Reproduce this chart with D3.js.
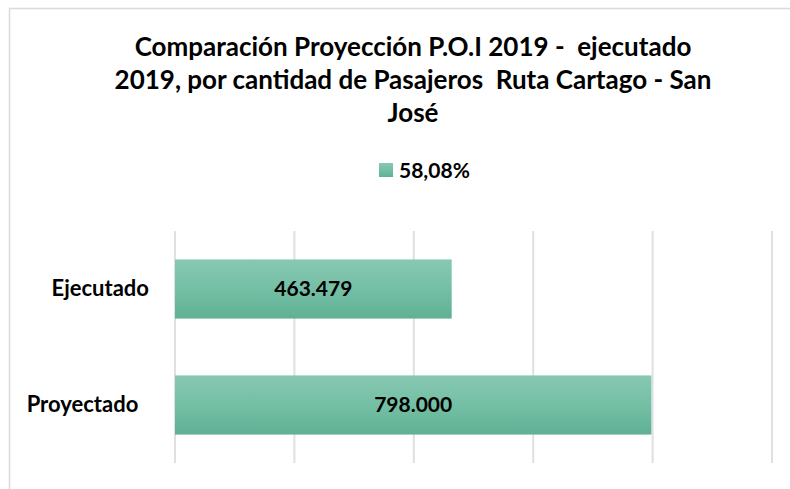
<!DOCTYPE html>
<html>
<head>
<meta charset="UTF-8">
<script src="https://d3js.org/d3.v7.min.js"></script>
<style>
  body { margin: 0; background: #fff; }
  text { font-family: Lato, "Open Sans", sans-serif; font-weight: bold; fill: #000; white-space: pre; }
</style>
</head>
<body>
<svg id="canvas"></svg>
<script>
  // data
  const categories = ["Ejecutado", "Proyectado  "];
  const values = [463479, 798000];
  const valueLabels = ["463.479", "798.000"];
  const seriesName = "58,08%";
  const xTicks = [0, 200000, 400000, 600000, 800000, 1000000];
  const titleLines = ["Comparación Proyección P.O.I 2019 -  ejecutado",
                      "2019, por cantidad de Pasajeros  Ruta Cartago - San",
                      "José"];

  const width = 790, height = 489;
  const plot = { left: 175, right: 772, top: 231, bottom: 463 };

  const svg = d3.select("#canvas").attr("width", width).attr("height", height);

  const defs = svg.append("defs");
  const grad = defs.append("linearGradient")
      .attr("id", "barGrad").attr("x1", 0).attr("y1", 0).attr("x2", 0).attr("y2", 1);
  grad.append("stop").attr("offset", "0%").attr("stop-color", "#88c8b2");
  grad.append("stop").attr("offset", "50%").attr("stop-color", "#74bfa5");
  grad.append("stop").attr("offset", "100%").attr("stop-color", "#5fb194");

  // chart border
  svg.append("rect")
      .attr("x", 9.5).attr("y", 8.5).attr("width", 900).attr("height", 900)
      .attr("style", "fill:none; stroke:#d9d9de; stroke-width:1.5;");

  const x = d3.scaleLinear().domain([0, 1000000]).range([plot.left, plot.right]);
  const y = d3.scaleBand().domain(categories).range([plot.top, plot.bottom]).paddingInner(0.49).paddingOuter(0.245);

  // gridlines
  svg.append("g").selectAll("line")
      .data(xTicks)
      .enter().append("line")
        .attr("x1", d => x(d)).attr("x2", d => x(d))
        .attr("y1", plot.top).attr("y2", plot.bottom)
        .attr("style", "stroke:#e0dfe6; stroke-width:2;");

  // bars
  svg.append("g").selectAll("rect")
      .data(values)
      .enter().append("rect")
        .attr("x", x(0))
        .attr("y", (d, i) => y(categories[i]))
        .attr("width", d => x(d) - x(0))
        .attr("height", y.bandwidth())
        .attr("fill", "url(#barGrad)");

  // value labels
  svg.append("g").selectAll("text")
      .data(values)
      .enter().append("text")
        .attr("x", d => (x(0) + x(d)) / 2)
        .attr("y", (d, i) => y(categories[i]) + y.bandwidth() / 2)
        .attr("dy", "0.35em")
        .attr("text-anchor", "middle")
        .style("font-size", "21px")
        .text((d, i) => valueLabels[i]);

  // category axis
  const yAxis = svg.append("g")
      .attr("transform", "translate(" + (plot.left - 26) + ",0)")
      .call(d3.axisLeft(y).tickSize(0).tickPadding(0));
  yAxis.select(".domain").remove();
  yAxis.selectAll("text")
      .attr("style", "font-family:Lato; font-weight:bold; font-size:22px; fill:#000; white-space:pre;");

  // title
  svg.append("g").selectAll("text")
      .data(titleLines)
      .enter().append("text")
        .attr("x", 413)
        .attr("y", (d, i) => 56 + i * 33)
        .attr("text-anchor", "middle")
        .style("font-size", "26px")
        .text(d => d);

  // legend
  const legend = svg.append("g").attr("transform", "translate(379,163)");
  legend.append("rect").attr("width", 14).attr("height", 14).attr("fill", "url(#barGrad)");
  legend.append("text").attr("x", 20).attr("y", 14.5).style("font-size", "21px").text(seriesName);
</script>
</body>
</html>
